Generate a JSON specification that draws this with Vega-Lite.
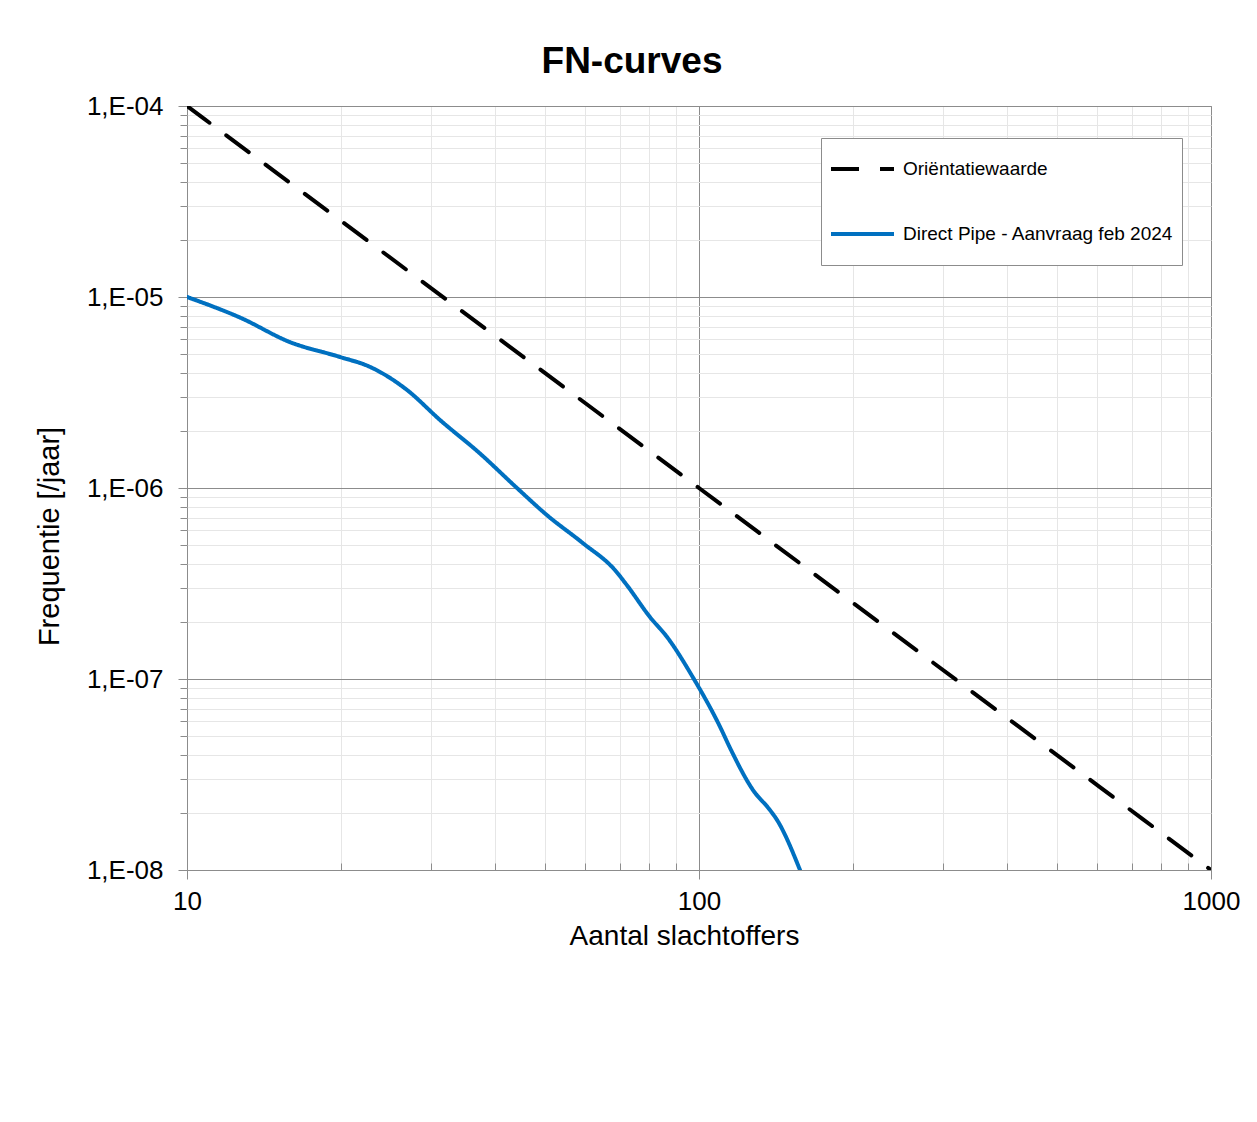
{
  "$schema": "https://vega.github.io/schema/vega-lite/v6.json",
  "autosize": {"type": "none"},
  "width": 1024,
  "height": 764,
  "padding": {"left": 187, "top": 106, "right": 46, "bottom": 252},
  "background": "white",
  "config": {
    "font": "Liberation Sans",
    "view": {"stroke": "#8c8c8c", "strokeWidth": 1}
  },
  "title": {
    "text": "FN-curves",
    "font": "Liberation Sans",
    "fontSize": 37,
    "fontWeight": "bold",
    "color": "#000",
    "anchor": "middle",
    "frame": "group",
    "dx": -67,
    "baseline": "alphabetic",
    "offset": -17
  },
  "data": {
    "values": [
      {"series": "Oriëntatiewaarde", "N": 10, "F": 1e-4},
      {"series": "Oriëntatiewaarde", "N": 100, "F": 1e-6},
      {"series": "Oriëntatiewaarde", "N": 1000, "F": 1e-8},
      {"series": "Direct Pipe - Aanvraag feb 2024", "N": 10, "F": 1.0e-5},
      {"series": "Direct Pipe - Aanvraag feb 2024", "N": 12.7, "F": 7.8e-6},
      {"series": "Direct Pipe - Aanvraag feb 2024", "N": 15.9, "F": 5.8e-6},
      {"series": "Direct Pipe - Aanvraag feb 2024", "N": 19.9, "F": 4.85e-6},
      {"series": "Direct Pipe - Aanvraag feb 2024", "N": 22.8, "F": 4.3e-6},
      {"series": "Direct Pipe - Aanvraag feb 2024", "N": 26.9, "F": 3.26e-6},
      {"series": "Direct Pipe - Aanvraag feb 2024", "N": 31.2, "F": 2.27e-6},
      {"series": "Direct Pipe - Aanvraag feb 2024", "N": 37.3, "F": 1.52e-6},
      {"series": "Direct Pipe - Aanvraag feb 2024", "N": 44.1, "F": 1.0e-6},
      {"series": "Direct Pipe - Aanvraag feb 2024", "N": 50.5, "F": 7.2e-7},
      {"series": "Direct Pipe - Aanvraag feb 2024", "N": 59.3, "F": 5.15e-7},
      {"series": "Direct Pipe - Aanvraag feb 2024", "N": 68.5, "F": 3.72e-7},
      {"series": "Direct Pipe - Aanvraag feb 2024", "N": 72.3, "F": 3.1e-7},
      {"series": "Direct Pipe - Aanvraag feb 2024", "N": 80.2, "F": 2.11e-7},
      {"series": "Direct Pipe - Aanvraag feb 2024", "N": 86.6, "F": 1.66e-7},
      {"series": "Direct Pipe - Aanvraag feb 2024", "N": 97.3, "F": 1.02e-7},
      {"series": "Direct Pipe - Aanvraag feb 2024", "N": 110, "F": 5.6e-8},
      {"series": "Direct Pipe - Aanvraag feb 2024", "N": 115, "F": 4.35e-8},
      {"series": "Direct Pipe - Aanvraag feb 2024", "N": 127.5, "F": 2.62e-8},
      {"series": "Direct Pipe - Aanvraag feb 2024", "N": 137.6, "F": 2.06e-8},
      {"series": "Direct Pipe - Aanvraag feb 2024", "N": 142, "F": 1.83e-8},
      {"series": "Direct Pipe - Aanvraag feb 2024", "N": 157.5, "F": 1.0e-8}
    ]
  },
  "mark": {"type": "line", "strokeWidth": 4, "strokeCap": "round", "strokeJoin": "round", "interpolate": "monotone", "clip": true},
  "encoding": {
    "x": {
      "field": "N",
      "type": "quantitative",
      "scale": {"type": "log", "domain": [10, 1000], "nice": false},
      "axis": {
        "title": "Aantal slachtoffers",
        "titleFont": "Liberation Sans",
        "titleFontSize": 28,
        "titleFontWeight": "normal",
        "titleColor": "#000",
        "titleX": 497,
        "titleY": 74,
        "titleBaseline": "alphabetic",
        "titleAnchor": null,
        "values": [10, 20, 30, 40, 50, 60, 70, 80, 90, 100, 200, 300, 400, 500, 600, 700, 800, 900, 1000],
        "labelExpr": "abs(log(datum.value)/LN10 - round(log(datum.value)/LN10)) < 0.000001 ? format(datum.value, 'd') : ''",
        "labelFont": "Liberation Sans",
        "labelFontSize": 26,
        "labelColor": "#000",
        "labelPadding": 9,
        "labelOverlap": false,
        "labelFlush": false,
        "labelBound": false,
        "domain": false,
        "grid": true,
        "gridColor": {"condition": {"test": "abs(log(datum.value)/LN10 - round(log(datum.value)/LN10)) < 0.000001", "value": "#8c8c8c"}, "value": "#e6e6e6"},
        "gridWidth": 1,
        "ticks": true,
        "tickColor": "#8c8c8c",
        "tickSize": {"condition": {"test": "abs(log(datum.value)/LN10 - round(log(datum.value)/LN10)) < 0.000001", "value": 9}, "value": -7}
      }
    },
    "y": {
      "field": "F",
      "type": "quantitative",
      "scale": {"type": "log", "domain": [1e-8, 1e-4], "nice": false},
      "axis": {
        "title": "Frequentie [/jaar]",
        "titleFont": "Liberation Sans",
        "titleFontSize": 29,
        "titleFontWeight": "normal",
        "titleColor": "#000",
        "titleAngle": -90,
        "titleX": -129,
        "titleY": 430,
        "titleAlign": "center",
        "titleBaseline": "alphabetic",
        "titleAnchor": null,
        "values": [1e-8, 2e-8, 3e-8, 4e-8, 5e-8, 6e-8, 7e-8, 8e-8, 9e-8, 1e-7, 2e-7, 3e-7, 4e-7, 5e-7, 6e-7, 7e-7, 8e-7, 9e-7, 1e-6, 2e-6, 3e-6, 4e-6, 5e-6, 6e-6, 7e-6, 8e-6, 9e-6, 1e-5, 2e-5, 3e-5, 4e-5, 5e-5, 6e-5, 7e-5, 8e-5, 9e-5, 1e-4],
        "labelExpr": "abs(log(datum.value)/LN10 - round(log(datum.value)/LN10)) < 0.000001 ? '1,E-0' + format(-round(log(datum.value)/LN10), 'd') : ''",
        "labelFont": "Liberation Sans",
        "labelFontSize": 26,
        "labelColor": "#000",
        "labelPadding": 15,
        "labelOverlap": false,
        "labelFlush": false,
        "labelBound": false,
        "domain": false,
        "grid": true,
        "gridColor": {"condition": {"test": "abs(log(datum.value)/LN10 - round(log(datum.value)/LN10)) < 0.000001", "value": "#8c8c8c"}, "value": "#e6e6e6"},
        "gridWidth": 1,
        "ticks": true,
        "tickColor": "#8c8c8c",
        "tickSize": {"condition": {"test": "abs(log(datum.value)/LN10 - round(log(datum.value)/LN10)) < 0.000001", "value": 9}, "value": 7}
      }
    },
    "color": {
      "field": "series",
      "type": "nominal",
      "scale": {"domain": ["Oriëntatiewaarde", "Direct Pipe - Aanvraag feb 2024"], "range": ["#000000", "#0070C0"]},
      "legend": {
        "title": null,
        "orient": "none",
        "legendX": 634,
        "legendY": 32,
        "strokeColor": "#8c8c8c",
        "fillColor": "white",
        "padding": 8,
        "symbolType": "stroke",
        "symbolSize": 3969,
        "symbolStrokeWidth": 4,
        "clipHeight": 46,
        "rowPadding": 19,
        "labelFont": "Liberation Sans",
        "labelFontSize": 19,
        "labelColor": "#000",
        "labelOffset": 7,
        "labelLimit": 400
      }
    },
    "strokeDash": {
      "field": "series",
      "type": "nominal",
      "scale": {"domain": ["Oriëntatiewaarde", "Direct Pipe - Aanvraag feb 2024"], "range": [[28, 21], [1, 0]]},
      "legend": null
    },
    "order": {"field": "N", "type": "quantitative"}
  }
}
